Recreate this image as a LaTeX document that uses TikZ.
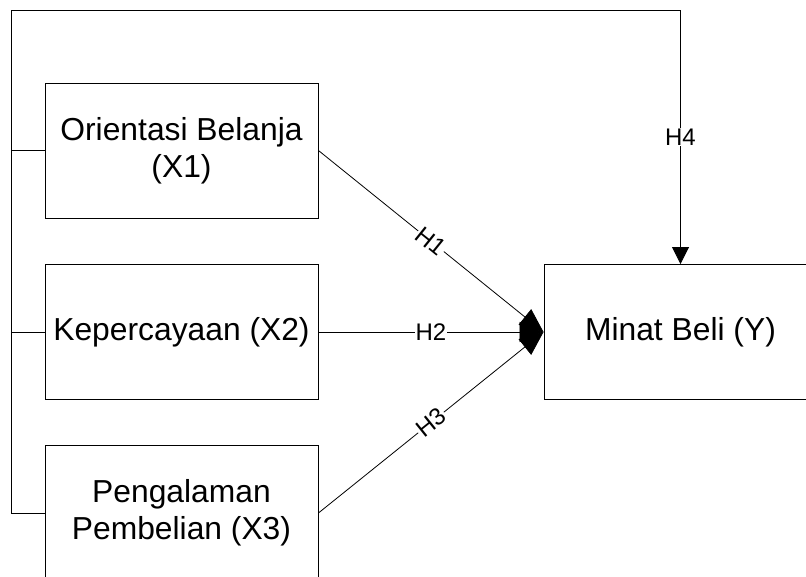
\documentclass[tikz,border=0pt]{standalone}
\usepackage{fontspec}
\setmainfont{Liberation Sans}
\usetikzlibrary{arrows.meta}
\tikzstyle{var}=[draw, line width=0.9pt, minimum width=273pt, minimum height=135pt, align=center, inner sep=0pt, font=\fontsize{31.8}{37}\selectfont]
\tikzstyle{hyp}=[line width=0.8pt, -{Triangle[length=24pt, width=20pt]}]
\tikzstyle{lbl}=[fill=white, inner sep=1pt, font=\fontsize{24}{28}\selectfont]

\begin{document}
\begin{tikzpicture}[x=1pt, y=-1pt, line width=0.8pt]
    \clip (0,0) rectangle (806,577);
% Variables
    \node[var] (x1) at (181.5,150.5) {Orientasi Belanja\\(X1)};
    \node[var] (x2) at (181.5,332) {Kepercayaan (X2)};
    \node[var] (x3) at (181.5,513) {Pengalaman\\Pembelian (X3)};
    \node[var] (y) at (680.5,332) {Minat Beli (Y)};
% Joint path
    \coordinate (top) at (11,10);
    \draw[-{Triangle[length=17pt, width=17pt]}] (x3.west) -| (top) -| node[lbl, pos=0.75] {H4} (y.north);
    \draw (x1.west) -- (x1.west -| top);
    \draw (x2.west) -- (x2.west -| top);
% Partial paths
    \draw[hyp] (x1.east) -- node[lbl, sloped] {H1} (y.west);
    \draw[hyp] (x2.east) -- node[lbl] {H2} (y.west);
    \draw[hyp] (x3.east) -- node[lbl, sloped] {H3} (y.west);
\end{tikzpicture}
\end{document}
